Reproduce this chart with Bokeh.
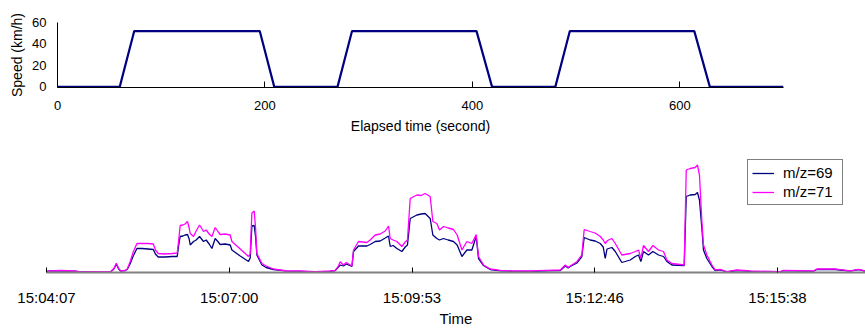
from bokeh.plotting import figure
from bokeh.models import Range1d, FixedTicker, Legend, LegendItem
from bokeh.embed import file_html
from bokeh.resources import INLINE

# ---------------- data: driving cycle (top) ----------------
elapsed_s = [0, 60, 74, 195, 209, 270, 284, 404, 419, 480, 494, 614, 629, 700]
speed_kmh = [0, 0, 52, 52, 0, 0, 52, 52, 0, 0, 52, 52, 0, 0]
speed_x_ticks = [0, 200, 400, 600]
speed_y_ticks = [0, 20, 40, 60]

# ---------------- data: PTR-MS signals (bottom) ----------------
time_s = [
    0, 3.5, 13, 27, 32, 61, 64, 66, 68, 70,
    74.5, 76.3, 79, 82, 85.5, 90.5, 96, 101, 103, 105.6,
    112, 119, 123.6, 125, 126.4, 129, 131, 133.3, 134.9, 135.9,
    139, 141.5, 144.7, 148.5, 151, 153.8, 156.4, 159.5, 162.4, 164.2,
    169, 173.7, 175.3, 183.2, 191, 192.6, 194.2, 196.4, 197.8, 198.9,
    203.7, 207.7, 214.6, 227.3, 240, 254, 268, 273, 276, 277.7,
    280.8, 283.4, 288.8, 290.3, 295, 303, 306, 310.8, 315.5, 320.3,
    323.4, 325, 327.8, 331.3, 336, 339.2, 341.3, 343.9, 350.2, 354.3,
    358, 362.8, 365.3, 369.1, 371.6, 375.4, 379.8, 384.8, 388.3, 392.8,
    397.5, 402.2, 406.3, 408.5, 413.2, 419.5, 429, 441.3, 457.4, 473.2,
    485.8, 490.5, 493.3, 495.2, 501.5, 506.2, 508.4, 514, 518.8, 523.6,
    526.4, 528.3, 530, 531.4, 534.6, 537.8, 544, 552, 556.7, 559.8,
    562, 564.5, 569.2, 573.4, 578.7, 583.4, 586.6, 591.3, 603, 604.9,
    608.6, 613.4, 615.5, 617.4, 619.7, 621.2, 624.4, 629.2, 632.3, 637,
    643.3, 652.8, 665.4, 693.8, 696.9, 725.2, 728.4, 745.7, 750.5, 760,
    767.7, 773.9,
]
mz71 = [
    1, 1.5, 2, 1.5, 0.5, 1, 4.5, 9.2, 4.5, 1.5,
    2, 3.5, 10.5, 20.5, 29, 29, 29, 28.5, 22.5, 19,
    18.5, 19, 19.5, 32.5, 47, 47.5, 48.5, 51, 44.5, 39,
    36, 41.5, 47.5, 41, 42.5, 38.5, 36, 45, 40.5, 38,
    38.5, 37.5, 31, 23.5, 16, 18.5, 59.5, 61.5, 42.5, 19,
    9, 6.5, 3.5, 1.5, 1.5, 0.8, 1.5, 2, 6.5, 10.8,
    7.5, 10, 6.5, 22.5, 31, 30, 32.5, 37.5, 38.5, 41.5,
    46.5, 34, 32.5, 31, 26, 30.5, 32.5, 74, 77.5, 77,
    79, 76, 51, 49, 42.5, 46, 44.5, 43, 37.5, 22.5,
    31, 29, 38, 16, 7.5, 3.5, 2.2, 1.5, 1.5, 2.2,
    2.5, 7.5, 5, 6.5, 10.8, 17.5, 43, 41, 39.5, 36,
    32.5, 29, 31.5, 32.5, 34, 29, 17.5, 19, 21, 22.5,
    14, 27, 21, 27, 22.5, 21, 12.5, 9, 7.5, 102.5,
    104, 105, 107.5, 97.5, 51, 27.5, 17.5, 7.5, 2.5, 3.2,
    0.8, 2.5, 1.5, 0.8, 2.2, 1.5, 3.5, 3.5, 2.8, 1.5,
    3.2, 1.5,
]
mz69 = [
    1, 1.5, 1.7, 1.3, 0.5, 1, 4, 8.5, 4, 1.5,
    2, 3, 8.5, 16.5, 24, 24, 23.5, 23, 18.5, 15.5,
    15.5, 16, 16, 27.5, 36, 36.5, 37.5, 38, 33.5, 27.5,
    31, 32.5, 36, 31, 32.5, 28.5, 24, 34, 30.5, 28,
    28.5, 27.5, 22.5, 16.5, 11, 14.5, 46.5, 47, 34.5, 17.5,
    7.5, 5, 3, 1.3, 1, 0.5, 1, 2, 5.5, 7.5,
    6.5, 8.5, 6, 21, 26.5, 26.5, 28, 31, 31.5, 34.5,
    36.5, 26, 27, 24, 21, 25.5, 27.5, 54, 57.5, 58.5,
    59, 54, 37.5, 34, 32.5, 34, 32.5, 31, 27.5, 16,
    22.5, 22.5, 36, 14, 7, 3, 1.7, 1.2, 1, 1.7,
    2, 6.5, 4.5, 6, 9.5, 16, 35, 32.5, 31.5, 29,
    25.5, 14, 23.5, 24, 25, 21, 10, 12.5, 16, 17.5,
    11, 21, 17.5, 21, 17.5, 16, 11, 7.5, 7, 76,
    77.5, 78, 80, 72.5, 44, 22.5, 14, 6, 2, 2.7,
    0.5, 2, 1.2, 0.5, 1.9, 1.2, 3, 3, 2.5, 1.3,
    2.9, 1.5,
]
time_tick_s = [0, 172.8, 345.6, 518.4, 691.2]
time_tick_labels = ["15:04:07", "15:07:00", "15:09:53", "15:12:46", "15:15:38"]

FONT = "Liberation Sans"
NAVY = "#000080"
MAGENTA = "#FF00FF"

# ---------------- top chart ----------------
p1 = figure(width=865, height=138, x_range=Range1d(0, 700), y_range=Range1d(-0.6, 60),
            output_backend="svg", toolbar_location=None,
            min_border_left=57, min_border_right=82, min_border_top=22, min_border_bottom=51)
p1.outline_line_color = None
p1.grid.visible = False
p1.line(elapsed_s, speed_kmh, color=NAVY, line_width=2.2)

xa = p1.xaxis[0]
xa.ticker = FixedTicker(ticks=speed_x_ticks)
xa.major_tick_in = 6
xa.major_tick_out = 0
xa.minor_tick_line_color = None
xa.axis_line_color = "black"
xa.major_label_text_font = FONT
xa.major_label_text_font_size = "13px"
xa.major_label_text_color = "black"
xa.major_label_standoff = 13
xa.axis_label = "Elapsed time (second)"
xa.axis_label_text_font = FONT
xa.axis_label_text_font_size = "14px"
xa.axis_label_text_font_style = "normal"
xa.axis_label_text_color = "black"
xa.axis_label_standoff = 5

ya = p1.yaxis[0]
ya.ticker = FixedTicker(ticks=speed_y_ticks)
ya.major_tick_in = 0
ya.major_tick_out = 0
ya.minor_tick_line_color = None
ya.axis_line_color = "black"
ya.major_label_text_font = FONT
ya.major_label_text_font_size = "13px"
ya.major_label_text_color = "black"
ya.major_label_standoff = 11
ya.axis_label = "Speed (km/h)"
ya.axis_label_text_font = FONT
ya.axis_label_text_font_size = "14px"
ya.axis_label_text_font_style = "normal"
ya.axis_label_text_color = "black"
ya.axis_label_standoff = 4

# ---------------- bottom chart ----------------
p2 = figure(width=865, height=191, x_range=Range1d(0, 774.4), y_range=Range1d(0, 122),
            output_backend="svg", toolbar_location=None,
            min_border_left=46, min_border_right=0, min_border_top=12, min_border_bottom=57)
p2.outline_line_color = None
p2.grid.visible = False
p2.yaxis.visible = False

r69 = p2.line(time_s, mz69, color=NAVY, line_width=1.3)
r71 = p2.line(time_s, mz71, color=MAGENTA, line_width=1.3)

xb = p2.xaxis[0]
xb.ticker = FixedTicker(ticks=time_tick_s)
xb.major_label_overrides = {t: lab for t, lab in zip(time_tick_s, time_tick_labels)}
xb.major_tick_in = 5
xb.major_tick_out = 0
xb.major_tick_line_color = "black"
xb.minor_tick_line_color = None
xb.axis_line_color = "#808080"
xb.axis_line_width = 2
xb.major_label_text_font = FONT
xb.major_label_text_font_size = "15px"
xb.major_label_text_color = "black"
xb.major_label_standoff = 16
xb.axis_label = "Time"
xb.axis_label_text_font = FONT
xb.axis_label_text_font_size = "15px"
xb.axis_label_text_font_style = "normal"
xb.axis_label_text_color = "black"
xb.axis_label_standoff = 1

legend = Legend(items=[LegendItem(label="m/z=69", renderers=[r69]),
                       LegendItem(label="m/z=71", renderers=[r71])],
                location=(701, 67), margin=0, padding=4, spacing=2,
                glyph_width=22, glyph_height=16, label_height=16, label_width=55,
                label_standoff=9, label_text_font=FONT, label_text_font_size="15px",
                label_text_color="black", border_line_color="black", border_line_width=1,
                background_fill_color="white", background_fill_alpha=1)
p2.add_layout(legend)

open("out.html", "w").write(file_html([p1, p2], INLINE))
